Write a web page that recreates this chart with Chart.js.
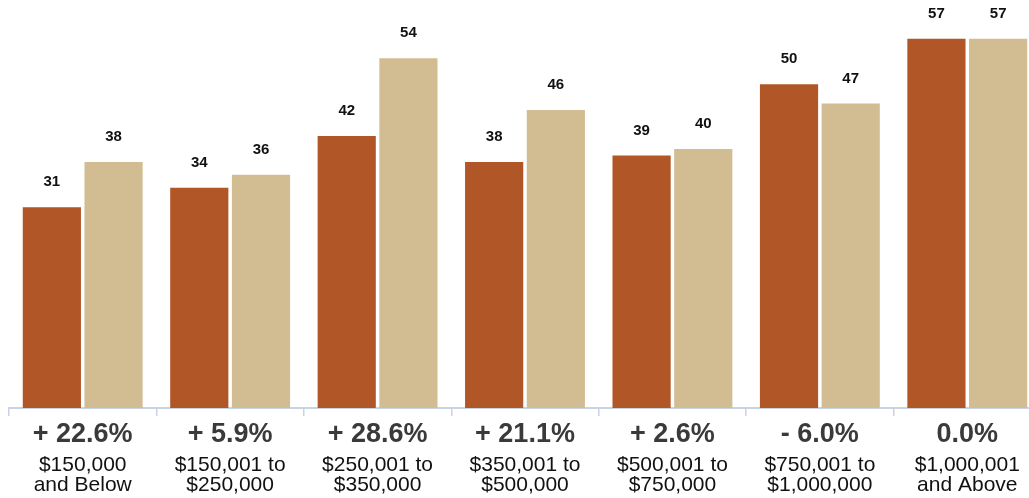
<!DOCTYPE html>
<html>
<head>
<meta charset="utf-8">
<script src="https://cdn.jsdelivr.net/npm/chart.js@4"></script>
<style>
  html, body { margin: 0; padding: 0; background: #fff; overflow: hidden; }
  canvas { display: block; }
</style>
</head>
<body>
<canvas id="chart" width="1041" height="498"></canvas>
<script>
// Price bands, two-line labels
const categories = [
  ["$150,000", "and Below"],
  ["$150,001 to", "$250,000"],
  ["$250,001 to", "$350,000"],
  ["$350,001 to", "$500,000"],
  ["$500,001 to", "$750,000"],
  ["$750,001 to", "$1,000,000"],
  ["$1,000,001", "and Above"]
];
const previousValues = [31, 34, 42, 38, 39, 50, 57];
const currentValues  = [38, 36, 54, 46, 40, 47, 57];
const changeLabels = ["+ 22.6%", "+ 5.9%", "+ 28.6%", "+ 21.1%", "+ 2.6%", "- 6.0%", "0.0%"];

const FONT = "'Liberation Sans', Arial, Helvetica, sans-serif";

// Numbers above each bar
const valueLabels = {
  id: 'valueLabels',
  afterDatasetsDraw(chart) {
    const ctx = chart.ctx;
    ctx.save();
    ctx.font = "bold 15px " + FONT;
    ctx.fillStyle = '#111';
    ctx.textAlign = 'center';
    ctx.textBaseline = 'middle';
    chart.data.datasets.forEach((ds, i) => {
      chart.getDatasetMeta(i).data.forEach((bar, j) => {
        ctx.fillText(String(ds.data[j]), bar.x, bar.y - 25);
      });
    });
    ctx.restore();
  }
};

// Percent change line under each category
const changeRow = {
  id: 'changeRow',
  afterDraw(chart) {
    const ctx = chart.ctx;
    const x = chart.scales.x;
    ctx.save();
    ctx.font = "bold 27px " + FONT;
    ctx.fillStyle = '#3a3a3a';
    ctx.textAlign = 'center';
    ctx.textBaseline = 'middle';
    changeLabels.forEach((t, i) => {
      ctx.fillText(t, x.getPixelForValue(i), 435);
    });
    ctx.restore();
  }
};

new Chart(document.getElementById('chart'), {
  type: 'bar',
  data: {
    labels: categories,
    datasets: [
      {
        label: 'Previous',
        data: previousValues,
        backgroundColor: '#B05627',
        categoryPercentage: 0.837,
        barPercentage: 0.943
      },
      {
        label: 'Current',
        data: currentValues,
        backgroundColor: '#D2BD92',
        categoryPercentage: 0.837,
        barPercentage: 0.943
      }
    ]
  },
  options: {
    responsive: false,
    animation: false,
    layout: { padding: { left: 9, right: 0, top: 0, bottom: 0 } },
    plugins: {
      legend: { display: false },
      tooltip: { enabled: false }
    },
    scales: {
      y: {
        display: false,
        min: 0,
        max: 63
      },
      x: {
        offset: true,
        afterFit(scale) {
          scale.height = 90;
          scale.paddingLeft = 0;
          scale.paddingRight = 0;
        },
        border: { display: true, color: '#c8d3e6', width: 2 },
        grid: {
          offset: true,
          drawOnChartArea: false,
          drawTicks: true,
          tickLength: 8,
          color: '#c8d3e6',
          lineWidth: 1.5
        },
        ticks: {
          autoSkip: false,
          maxRotation: 0,
          padding: 39,
          color: '#111',
          font: { family: FONT, size: 21, lineHeight: 0.97 }
        }
      }
    }
  },
  plugins: [valueLabels, changeRow]
});
</script>
</body>
</html>
